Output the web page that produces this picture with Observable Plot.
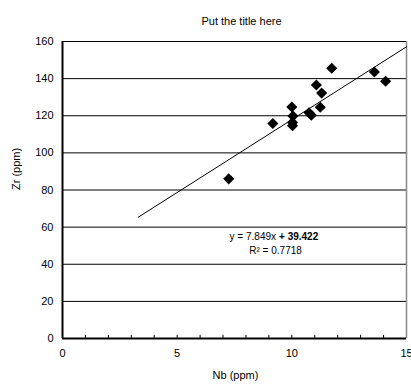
<!DOCTYPE html>
<html>
<head>
<meta charset="utf-8">
<script src="https://cdn.jsdelivr.net/npm/d3@7"></script>
<script src="https://cdn.jsdelivr.net/npm/@observablehq/plot@0.6"></script>
<style>
  html, body { margin: 0; padding: 0; background: #fff; }
  #chart svg { display: block; }
</style>
</head>
<body>
<div id="chart"></div>
<script>
const nb = [7.25, 9.17, 10.0, 10.05, 10.03, 10.03, 10.75, 10.85, 11.07, 11.3, 11.24, 11.74, 13.6, 14.09];
const zr = [86, 115.8, 124.7, 119.8, 116.3, 114.6, 121.6, 120.3, 136.6, 132.2, 124.6, 145.6, 143.6, 138.6];
const xTicks = [0, 5, 10, 15];
const yTicks = [0, 20, 40, 60, 80, 100, 120, 140, 160];
const minorX = [1, 2, 3, 4, 5, 6, 7, 8, 9, 10, 11, 12, 13, 14];
const slope = 7.849;
const intercept = 39.422;
const r2 = 0.7718;
const fitRange = [3.3, 15];

const points = nb.map((x, i) => ({x, y: zr[i]}));
const fit = fitRange.map(x => ({x, y: slope * x + intercept}));

const font = "Liberation Sans, Arial, sans-serif";

const chart = Plot.plot({
  width: 411,
  height: 390,
  marginLeft: 62,
  marginRight: 5,
  marginTop: 41,
  marginBottom: 52,
  style: {fontFamily: font, fontSize: "11px", color: "#000", background: "#fff", overflow: "visible"},
  x: {domain: [0, 15]},
  y: {domain: [0, 160]},
  marks: [
    Plot.ruleY(yTicks.filter(d => d > 0), {stroke: "#000", strokeWidth: 1}),
    Plot.ruleX([15], {stroke: "#888", strokeWidth: 1.5}),
    Plot.ruleX(minorX, {y1: 0, y2: 1.7, stroke: "#000", strokeWidth: 1}),
    Plot.ruleY([0], {stroke: "#000", strokeWidth: 2}),
    Plot.ruleX([0], {stroke: "#000", strokeWidth: 2}),
    Plot.axisX({ticks: xTicks, tickSize: 0, tickPadding: 11, label: null, fontSize: 11}),
    Plot.axisY({ticks: yTicks, tickSize: 0, tickPadding: 9, label: null, fontSize: 11}),
    Plot.line(fit, {x: "x", y: "y", stroke: "#000", strokeWidth: 1}),
    Plot.dot(points, {x: "x", y: "y", symbol: "diamond2", r: 5, fill: "#000", stroke: "none"}),
    Plot.text([`y = ${slope}x`], {x: 9.31, y: 55, text: d => d, textAnchor: "end", fontSize: 10, fill: "#000"}),
    Plot.text([`+ ${intercept}`], {x: 9.31, y: 55, dx: 3, text: d => d, textAnchor: "start", fontSize: 10, fontWeight: "bold", fill: "#000"}),
    Plot.text([`R² = ${r2}`], {x: 9.29, y: 47.4, text: d => d, textAnchor: "middle", fontSize: 10, fill: "#000"}),
    Plot.text(["Put the title here"], {frameAnchor: "top", dy: -24, dx: 7, text: d => d, fontSize: 11, fill: "#000"}),
    Plot.text(["Nb (ppm)"], {frameAnchor: "bottom", dy: 40, dx: 1, text: d => d, fontSize: 11, fill: "#000"}),
    Plot.text(["Zr (ppm)"], {frameAnchor: "left", dx: -46, rotate: -90, text: d => d, fontSize: 11, fill: "#000"})
  ]
});
document.getElementById("chart").appendChild(chart);
</script>
</body>
</html>
